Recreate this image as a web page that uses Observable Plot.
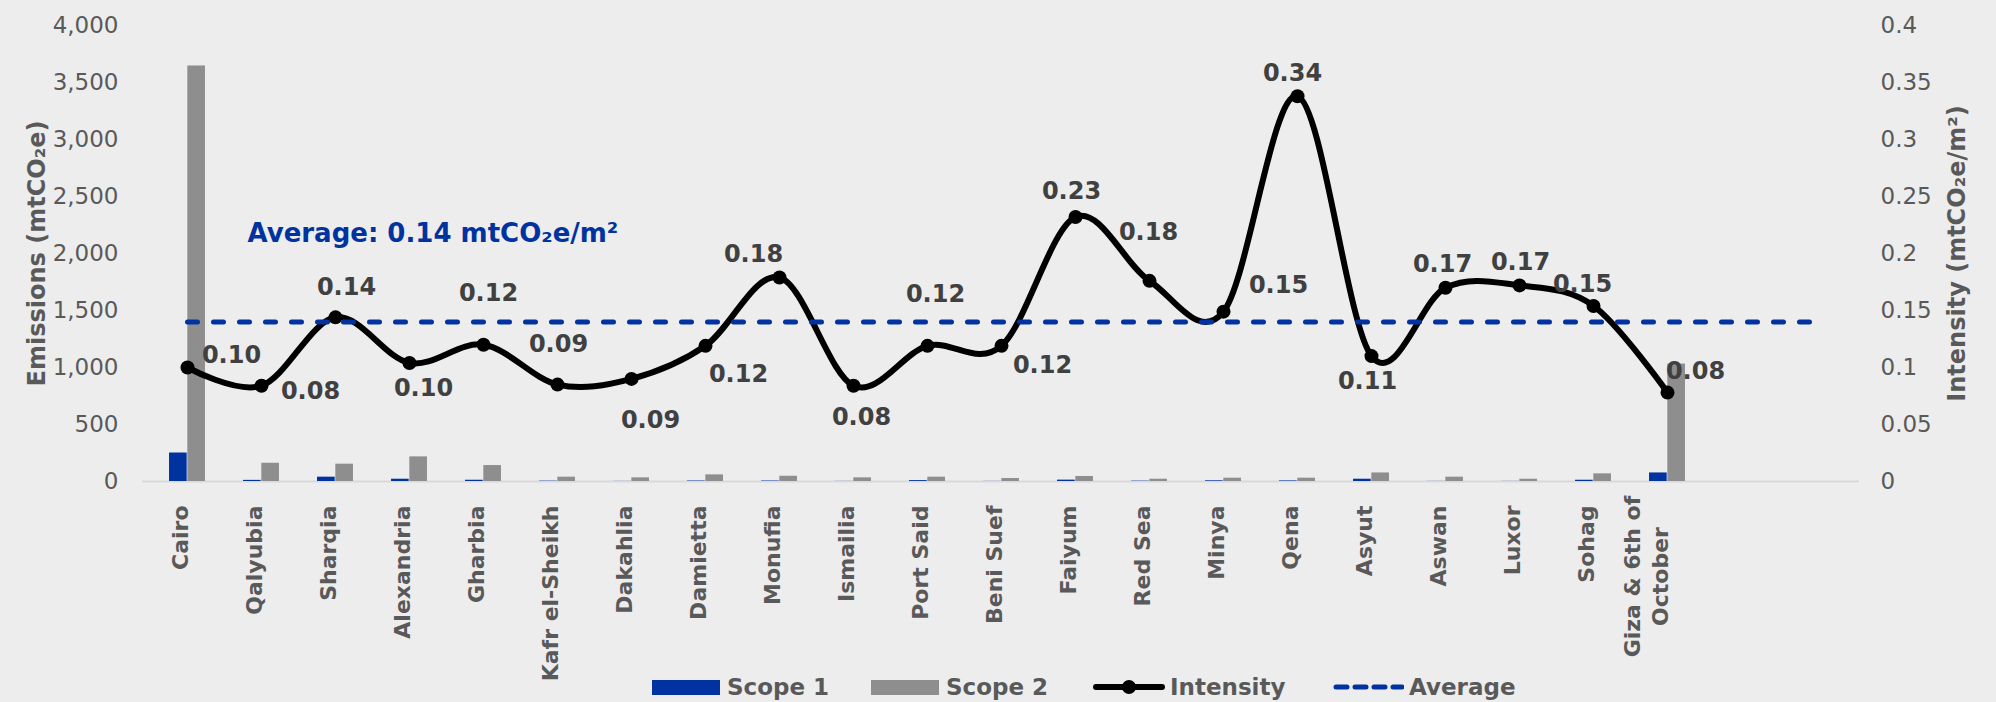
<!DOCTYPE html>
<html><head><meta charset="utf-8">
<script src="https://cdn.jsdelivr.net/npm/d3@7"></script>
<script src="https://cdn.jsdelivr.net/npm/@observablehq/plot@0.6"></script>
<style>
html,body{margin:0;padding:0;background:#ededed;font-family:"DejaVu Sans",sans-serif;}
#wrap{position:relative;width:1996px;height:702px;overflow:hidden;background:#ededed;}
#chart svg{display:block;}
.leg{position:absolute;top:675px;height:24px;display:flex;align-items:center;font-weight:bold;font-size:23px;color:#595959;white-space:nowrap;z-index:2;}
.sw{width:68px;height:15px;margin-right:7px;}
.ic{margin-right:5px;}
</style></head><body>
<div id="wrap"><div id="chart"></div>
<div class="leg" style="left:652px"><div class="sw" style="background:#0033a0"></div>Scope 1</div>
<div class="leg" style="left:871px"><div class="sw" style="background:#8e8e8e"></div>Scope 2</div>
<div class="leg" style="left:1093px"><svg class="ic" width="72" height="24"><line x1="3" x2="69" y1="12" y2="12" stroke="#000" stroke-width="6" stroke-linecap="round"/><circle cx="36" cy="12" r="7" fill="#000"/></svg>Intensity</div>
<div class="leg" style="left:1332px"><svg class="ic" width="72" height="24"><line x1="4" x2="70" y1="12" y2="12" stroke="#0033a0" stroke-width="5" stroke-dasharray="11,8" stroke-linecap="round"/></svg>Average</div>
</div>
<script>
// ---- data ----
const provinces = ["Cairo","Qalyubia","Sharqia","Alexandria","Gharbia","Kafr el-Sheikh","Dakahlia","Damietta","Monufia","Ismailia","Port Said","Beni Suef","Faiyum","Red Sea","Minya","Qena","Asyut","Aswan","Luxor","Sohag","Giza & 6th of October"];
const emptySlots = [" ", "  "];
const scope1 = [250,10,38,20,11,3,1,4,4,1,8,1,12,3,6,5,20,1,1,11,75];
const scope2 = [3645,160,152,216,140,38,32,58,46,32,38,26,44,20,29,29,75,38,20,67,1030];
const intensity = [0.100,0.084,0.144,0.104,0.120,0.085,0.090,0.119,0.179,0.084,0.119,0.119,0.232,0.176,0.149,0.338,0.110,0.170,0.172,0.154,0.078];
const averageIntensity = 0.14;
const emissionTicks = [0,500,1000,1500,2000,2500,3000,3500,4000];
const intensityTicks = [0,0.05,0.1,0.15,0.2,0.25,0.3,0.35,0.4];
const xTickLabels = ["Cairo","Qalyubia","Sharqia","Alexandria","Gharbia","Kafr el-Sheikh","Dakahlia","Damietta","Monufia","Ismailia","Port Said","Beni Suef","Faiyum","Red Sea","Minya","Qena","Asyut","Aswan","Luxor","Sohag","Giza & 6th of\nOctober"];
// label placement nudges (style, pixels)
const labelNudge = [[44,-12],[49,6],[11,-30],[14,25],[5,-51],[1,-40],[19,41],[33,28],[-26,-23],[8,32],[8,-52],[41,19],[-4,-26],[-1,-49],[55,-26],[-5,-23],[-4,25],[-3,-23],[1,-23],[-11,-22],[28,-21]];

// ---- build ----
const ratio = emissionTicks[emissionTicks.length-1] / intensityTicks[intensityTicks.length-1];
const rows = provinces.map((p,i)=>({name:p, label:xTickLabels[i], s1:scope1[i], s2:scope2[i], it:intensity[i]}));
const slots = provinces.concat(emptySlots);
const BLUE = "#0033a0", GRAY = "#8e8e8e", TXT = "#595959";
const W = 1996, H = 702, ML = 142, MR = 137, MT = 25, MB = H - 481;
const step = (W - ML - MR) / slots.length;
const half = step/2, bw = 18.3;

const singleLabels = rows.filter(r => !r.label.includes("\n"));
const multiLabels = rows.filter(r => r.label.includes("\n"));

const marks = [
  Plot.ruleY([0], {stroke:"#d9d9d9", strokeWidth:2}),
  Plot.barY(rows, {x:"name", y:"s1", fill:BLUE, insetLeft: half-bw, insetRight: half}),
  Plot.barY(rows, {x:"name", y:"s2", fill:GRAY, insetLeft: half, insetRight: half-bw}),
  Plot.axisY(emissionTicks, {anchor:"left", tickSize:0, tickPadding:24, tickFormat:d3.format(","), fontSize:23, fill:TXT, label:null}),
  Plot.axisY(intensityTicks.map(t=>t*ratio), {anchor:"right", tickSize:0, tickPadding:21, tickFormat:d=>String(+(d/ratio).toFixed(2)), fontSize:23, fill:TXT, label:null}),
  Plot.text(singleLabels, {x:"name", text:"label", frameAnchor:"bottom", rotate:-90, textAnchor:"end", dy:24, fontSize:22, fontWeight:"bold", fill:TXT}),
  Plot.text(multiLabels, {x:"name", text:"label", frameAnchor:"bottom", rotate:-90, textAnchor:"middle", dy:95, lineHeight:1.27, fontSize:22, fontWeight:"bold", fill:TXT}),
  Plot.line(rows, {x:"name", y:d=>d.it*ratio, curve:"cardinal", stroke:"#000", strokeWidth:6, strokeLinejoin:"round"}),
  Plot.dot(rows, {x:"name", y:d=>d.it*ratio, r:7, fill:"#000"}),
  Plot.line(slots, {x:d=>d, y:()=>averageIntensity*ratio, stroke:BLUE, strokeWidth:5, strokeDasharray:"10,16", strokeLinecap:"round"}),
  ...rows.map((r,i)=>Plot.text([r], {x:"name", y:d=>d.it*ratio, text:d=>d.it.toFixed(2), dx:labelNudge[i][0], dy:labelNudge[i][1], fontSize:24, fontWeight:"bold", fill:"#404040"})),
  Plot.text([`Average: ${averageIntensity.toFixed(2)} mtCO₂e/m²`], {frameAnchor:"top-left", textAnchor:"start", dx:105, dy:198, fontSize:26, fontWeight:"bold", fill:BLUE}),
  Plot.text(["Emissions (mtCO₂e)"], {frameAnchor:"left", textAnchor:"middle", rotate:-90, dx:-105, fontSize:24, fontWeight:"bold", fill:TXT}),
  Plot.text(["Intensity (mtCO₂e/m²)"], {frameAnchor:"right", textAnchor:"middle", rotate:-90, dx:98, fontSize:24, fontWeight:"bold", fill:TXT})
];

const chart = Plot.plot({
  width: W, height: H,
  marginLeft: ML, marginRight: MR, marginTop: MT, marginBottom: MB,
  style: {background:"#ededed", fontFamily:"DejaVu Sans, sans-serif"},
  x: {domain: slots, padding: 0, axis: null},
  y: {domain: [0, emissionTicks[emissionTicks.length-1]], axis: null},
  marks
});
document.getElementById("chart").appendChild(chart);
</script>
</body></html>
